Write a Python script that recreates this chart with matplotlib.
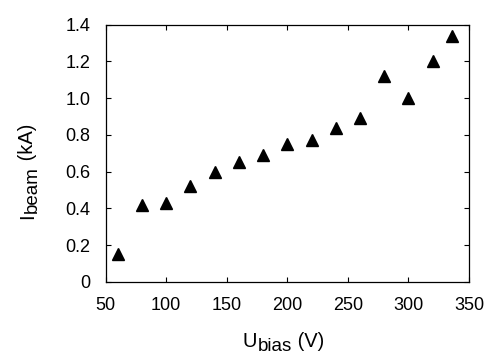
import matplotlib
matplotlib.use("Agg")
import matplotlib.pyplot as plt

# bias voltage (V) and beam current (kA)
u_bias = [60, 80, 100, 120, 140, 160, 180, 200, 220, 240, 260, 280, 300, 320, 336]
i_beam = [0.15, 0.42, 0.43, 0.52, 0.60, 0.65, 0.69, 0.75, 0.77, 0.84, 0.89, 1.12, 1.00, 1.20, 1.34]

x_ticks = [50, 100, 150, 200, 250, 300, 350]
y_ticks = [0, 0.2, 0.4, 0.6, 0.8, 1.0, 1.2, 1.4]
y_labels = ["0", "0.2", "0.4", "0.6", "0.8", "1.0", "1.2", "1.4"]

plt.rcParams['font.family'] = ['Liberation Sans', 'DejaVu Sans']

W, H = 487, 354
fig = plt.figure(figsize=(W / 100, H / 100), dpi=100)
ax = fig.add_axes([105.7 / W, 1 - 282 / H, (469 - 105.7) / W, (282 - 24.5) / H])

ax.plot(u_bias, i_beam, linestyle='none', marker='^', markersize=9, color='black')

ax.set_xlim(50, 350)
ax.set_ylim(0, 1.4)
ax.set_xticks(x_ticks)
ax.set_yticks(y_ticks)
ax.set_yticklabels(y_labels)

ax.tick_params(direction='in', top=True, right=True, length=3.5, width=0.8,
               labelsize=13, pad=11)
for s in ax.spines.values():
    s.set_linewidth(0.9)

# axis labels with near full size, lowered subscripts
main_fs, sub_fs = 14.5, 13.5

xl = fig.text(243 / W, 1 - 347 / H, "U", fontsize=main_fs, ha='left', va='baseline')
xs = ax.annotate("bias", xy=(1, 0), xycoords=xl, xytext=(0.5, -3),
                 textcoords='offset points', fontsize=sub_fs, ha='left', va='bottom',
                 annotation_clip=False)
ax.annotate(" (V)", xy=(1, 0), xycoords=xs, xytext=(0, 3),
            textcoords='offset points', fontsize=main_fs, ha='left', va='bottom',
            annotation_clip=False)

yl = fig.text(37 / W, 1 - 219 / H, "I", fontsize=main_fs, rotation=90,
              ha='right', va='bottom')
ys = ax.annotate("beam", xy=(1, 1), xycoords=yl, xytext=(3, 0.5),
                 textcoords='offset points', fontsize=sub_fs, rotation=90,
                 ha='right', va='bottom', annotation_clip=False)
ax.annotate(" (kA)", xy=(1, 1), xycoords=ys, xytext=(-3, 0),
            textcoords='offset points', fontsize=main_fs, rotation=90,
            ha='right', va='bottom', annotation_clip=False)

fig.savefig('out.png', dpi=100)
